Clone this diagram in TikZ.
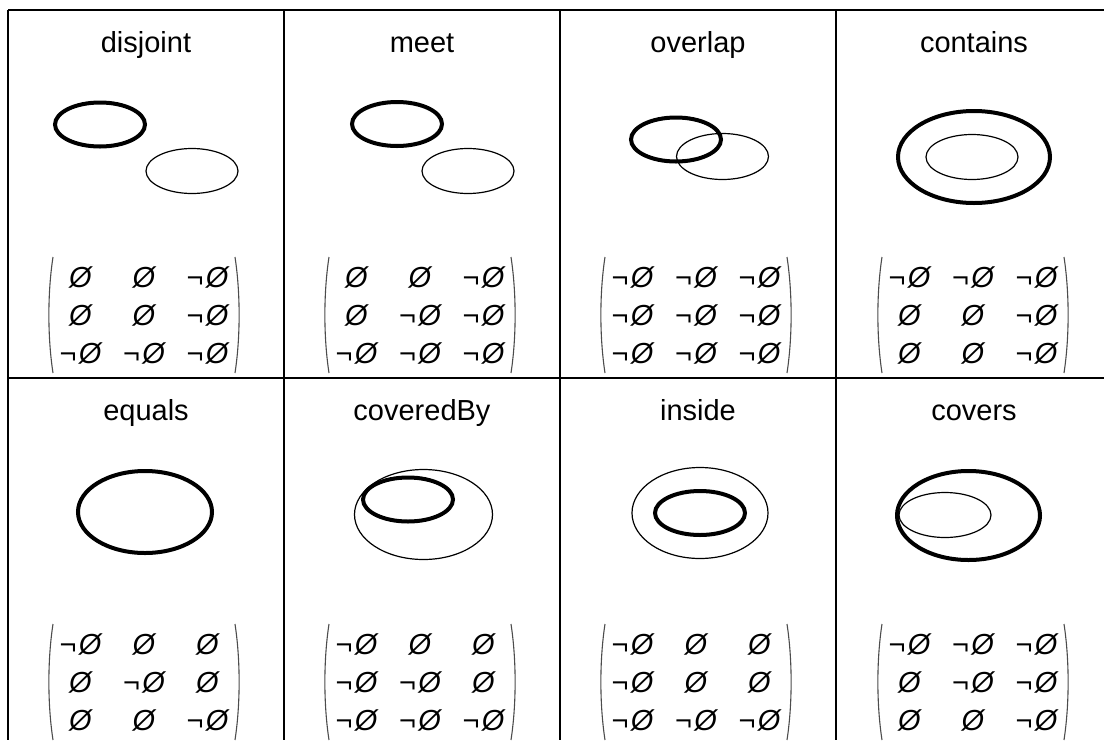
\documentclass[tikz,border=0pt]{standalone}
\usepackage{fontspec}
\setmainfont{Liberation Sans}
\usetikzlibrary{matrix,calc}
\newcommand\ze{{\itshape Ø}}
\newcommand\nz{¬\kern2.5pt{\itshape Ø}}
\begin{document}
\begin{tikzpicture}[x=1pt,y=-1pt,
  gridline/.style={line width=2pt},
  thickell/.style={line width=4pt},
  thinell/.style={line width=1.2pt},
  title/.style={anchor=base, font=\fontsize{29}{31}\selectfont, inner sep=0pt},
  relm/.style={matrix of nodes, ampersand replacement=\&, inner sep=0pt,
    column sep=17.5pt, row sep=8pt,
    nodes={inner sep=0pt, minimum width=46pt, minimum height=30pt, anchor=center,
      font=\fontsize{29}{31}\selectfont}},
  paren/.style={line width=1.1pt, black!70}]
\useasboundingbox (0,0) rectangle (1104,740);
% grid
\draw[gridline] (8,10) -- (1104,10);
\draw[gridline] (8,378) -- (1104,378);
\foreach \gx in {8,284,560,836} \draw[gridline] (\gx,10) -- (\gx,740);
% titles
\node[title] (t1) at (146,52) {disjoint};
\node[title] (t2) at (422,52) {meet};
\node[title] (t3) at (698,52) {overlap};
\node[title] (t4) at (974,52) {contains};
\node[title] (t5) at (146,420) {equals};
\node[title] (t6) at (422,420) {coveredBy};
\node[title] (t7) at (698,420) {inside};
\node[title] (t8) at (974,420) {covers};
% shapes row 1
\draw[thickell] (100,124.5) ellipse [x radius=45pt, y radius=22pt];
\draw[thinell] (192,171) ellipse [x radius=46pt, y radius=22.5pt];
\draw[thickell] (397,124) ellipse [x radius=45pt, y radius=22pt];
\draw[thinell] (468,171) ellipse [x radius=46pt, y radius=22.5pt];
\draw[thickell] (676,139.5) ellipse [x radius=45pt, y radius=22pt];
\draw[thinell] (722.5,156.5) ellipse [x radius=46pt, y radius=23pt];
\draw[thickell] (974,157) ellipse [x radius=76pt, y radius=46pt];
\draw[thinell] (972,157) ellipse [x radius=46pt, y radius=22.5pt];
% shapes row 2
\draw[thickell] (145,512) ellipse [x radius=67pt, y radius=41pt];
\draw[thinell] (423.5,514.5) ellipse [x radius=69pt, y radius=45pt];
\draw[thickell] (408,499.5) ellipse [x radius=45pt, y radius=22pt];
\draw[thinell] (700,513) ellipse [x radius=68pt, y radius=45.5pt];
\draw[thickell] (700,513) ellipse [x radius=45pt, y radius=22pt];
\draw[thickell] (968.5,515.5) ellipse [x radius=71.5pt, y radius=44.5pt];
\draw[thinell] (945,515) ellipse [x radius=46pt, y radius=22.5pt];
% matrices
\matrix[relm] (m1) at (144,315) {\ze\&\ze\&\nz\\\ze\&\ze\&\nz\\\nz\&\nz\&\nz\\};
\matrix[relm] (m2) at (420,315) {\ze\&\ze\&\nz\\\ze\&\nz\&\nz\\\nz\&\nz\&\nz\\};
\matrix[relm] (m3) at (696,315) {\nz\&\nz\&\nz\\\nz\&\nz\&\nz\\\nz\&\nz\&\nz\\};
\matrix[relm] (m4) at (973,315) {\nz\&\nz\&\nz\\\ze\&\ze\&\nz\\\ze\&\ze\&\nz\\};
\matrix[relm] (m5) at (144,682) {\nz\&\ze\&\ze\\\ze\&\nz\&\ze\\\ze\&\ze\&\nz\\};
\matrix[relm] (m6) at (420,682) {\nz\&\ze\&\ze\\\nz\&\nz\&\ze\\\nz\&\nz\&\nz\\};
\matrix[relm] (m7) at (696,682) {\nz\&\ze\&\ze\\\nz\&\ze\&\ze\\\nz\&\nz\&\nz\\};
\matrix[relm] (m8) at (973,682) {\nz\&\nz\&\nz\\\ze\&\nz\&\nz\\\ze\&\ze\&\nz\\};
% parentheses
\foreach \m in {m1,m2,m3,m4,m5,m6,m7,m8} {
  \draw[paren] ($(\m.center)+(-91,-58)$) .. controls ($(\m.center)+(-96.5,-22)$) and ($(\m.center)+(-96.5,22)$) .. ($(\m.center)+(-91,58)$);
  \draw[paren] ($(\m.center)+(91,-58)$) .. controls ($(\m.center)+(96.5,-22)$) and ($(\m.center)+(96.5,22)$) .. ($(\m.center)+(91,58)$);
}
\end{tikzpicture}
\end{document}
